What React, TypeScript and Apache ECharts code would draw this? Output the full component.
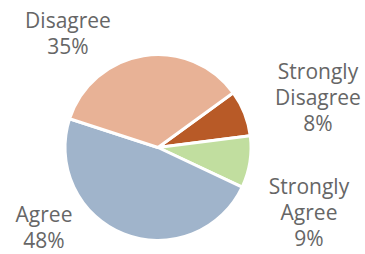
import React, { useEffect, useRef } from "react";
import * as echarts from "echarts";

const categories = ["Strongly Disagree", "Strongly Agree", "Agree", "Disagree"];
const values = [8, 9, 48, 35];
const colors = ["#B85A27", "#C1DE9F", "#A0B4CB", "#E8B296"];
// label anchor positions (text block centres), in px
const labelX = [318, 309, 44, 68];
const labelY = [97, 212, 227, 33];

export default function App() {
  const ref = useRef<HTMLDivElement>(null);
  useEffect(() => {
    if (!ref.current) return;
    const chart = echarts.init(ref.current, null, { renderer: "svg" });
    chart.setOption({
      animation: false,
      series: [
        {
          type: "pie",
          center: [158, 147.5],
          radius: 93,
          startAngle: 36,
          clockwise: true,
          silent: true,
          itemStyle: { borderColor: "#ffffff", borderWidth: 3 },
          label: {
            show: true,
            position: "outside",
            alignTo: "none",
            overflow: "none",
            formatter: (p: any) => `${p.name.replace(" ", "\n")}\n${p.value}%`,
            fontFamily: "Open Sans",
            fontSize: 21,
            lineHeight: 26,
            color: "#666666",
            align: "center",
          },
          labelLine: { show: false },
          labelLayout: (params: any) => ({
            x: labelX[params.dataIndex],
            y: labelY[params.dataIndex],
            align: "center",
            verticalAlign: "middle",
            width: 120,
          }),
          data: categories.map((c, i) => ({
            name: c,
            value: values[i],
            itemStyle: { color: colors[i] },
          })),
        },
      ],
    });
    return () => chart.dispose();
  }, []);
  return (
    <div
      ref={ref}
      style={{ position: "absolute", left: 0, top: 0, width: 365, height: 254, background: "#fff" }}
    />
  );
}
